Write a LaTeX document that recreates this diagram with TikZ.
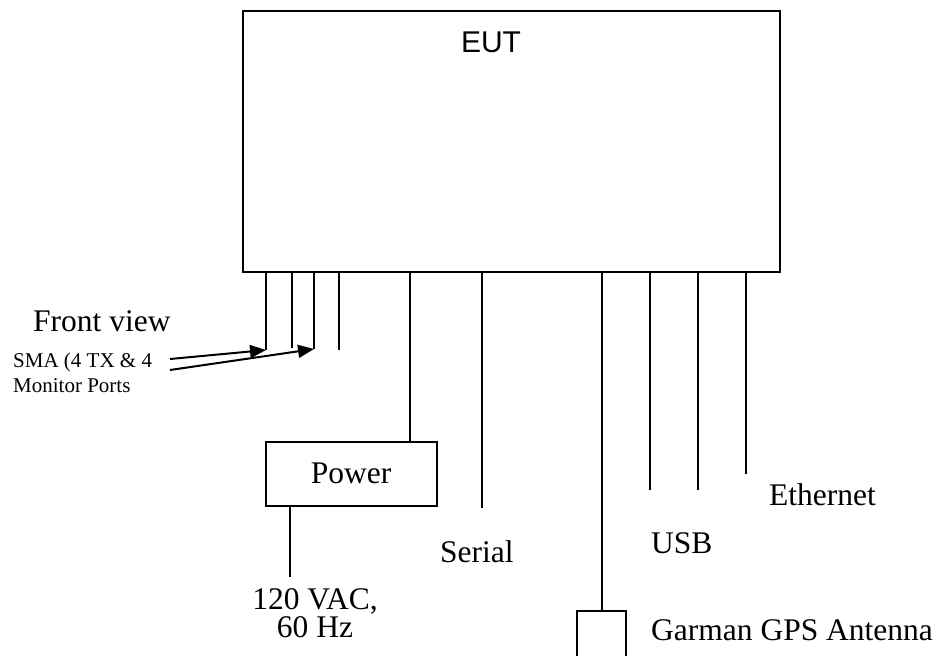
\documentclass[tikz,border=0pt]{standalone}
\usepackage{fontspec}
\setmainfont{Liberation Serif}
\newfontfamily\eutsans{Liberation Sans}
\usetikzlibrary{arrows.meta}
\begin{document}
\begin{tikzpicture}[x=1pt,y=-1pt,
  wire/.style={line width=2pt},
  boxed/.style={draw,line width=2pt,inner sep=0pt},
  lbl/.style={inner sep=0pt,font=\fontsize{31.5}{31.5}\selectfont},
  smalllbl/.style={inner sep=0pt,font=\fontsize{21}{21}\selectfont},
  pointer/.style={line width=2pt,-{Triangle[length=16pt,width=13pt]}}]
\useasboundingbox (0,0) rectangle (940,656);
\clip (0,0) rectangle (940,656);
% boxes
\node[boxed,minimum width=537pt,minimum height=261pt] (eut) at (511.5,141.5) {};
\node[inner sep=0pt,anchor=base,font=\eutsans\fontsize{30}{30}\selectfont] (eutlbl) at (491,52) {EUT};
\node[boxed,minimum width=171pt,minimum height=64pt] (power) at (351.5,474) {};
\node[lbl,anchor=base] (powerlbl) at (351,483) {Power};
\node[boxed,minimum width=49pt,minimum height=70pt,anchor=north] (gps) at (601.5,610) {};
% free ends
\coordinate (p1) at (266,350);
\coordinate (p2) at (292,348);
\coordinate (p3) at (314,349);
\coordinate (p4) at (339,350);
\coordinate (ser) at (482,508);
\coordinate (usb1) at (650,490);
\coordinate (usb2) at (698,490);
\coordinate (eth) at (746,474);
\coordinate (ac) at (290,577);
\coordinate (a1) at (170,359);
\coordinate (a2) at (170,370);
% port wires
\foreach \c in {p1,p2,p3,p4,ser,usb1,usb2,eth}
  \draw[wire] (eut.south -| \c) -- (\c);
\draw[wire] (eut.south -| 410,0) -- (power.north -| 410,0);
\draw[wire] (eut.south -| gps.north) -- (gps.north);
\draw[wire] (power.south -| ac) -- (ac);
% pointers
\draw[pointer] (a1) -- (p1);
\draw[pointer] (a2) -- (p3);
% labels
\node[lbl,anchor=base west] (front) at (33,331) {Front view};
\node[smalllbl,anchor=base west] (sma) at (13,367) {SMA (4 TX \& 4};
\node[smalllbl,anchor=base west] (mon) at (13,392) {Monitor Ports};
\node[inner sep=0pt,align=center,font=\fontsize{31.5}{28}\selectfont] (vac) at (315,613.5) {120 VAC,\\60 Hz};
\node[lbl,anchor=base west] (serlbl) at (440,562) {Serial};
\node[lbl,anchor=base west] (usblbl) at (651,553) {USB};
\node[lbl,anchor=base west] (ethlbl) at (769,505) {Ethernet};
\node[lbl,anchor=base west] (gpslbl) at (651,640) {Garman GPS Antenna};
\end{tikzpicture}
\end{document}
